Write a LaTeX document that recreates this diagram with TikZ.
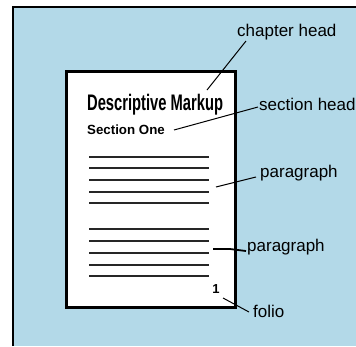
\documentclass[tikz,border=0pt]{standalone}
\usepackage{fontspec}
\setmainfont{Liberation Sans}
\definecolor{bgblue}{HTML}{B3D9E8}
\begin{document}
\begin{tikzpicture}[x=1pt,y=-1pt,
  callout/.style={inner sep=0pt, anchor=base west, font=\fontsize{17}{20}\selectfont},
  lead/.style={line width=1pt},
  textrule/.style={line width=1.3pt, black!85}]
\useasboundingbox (0,0) rectangle (356,346);
% backdrop with its left and top frame
\fill[bgblue] (13,7) rectangle (356,346);
\draw[line width=2pt] (13,346) -- (13,7) -- (356,7);
% the printed page
\draw[line width=3pt, fill=white] (66,71) rectangle (235,307);
\node[inner sep=0pt, anchor=base west, xscale=0.655,
  font=\bfseries\fontsize{22.5}{26}\selectfont] (title) at (87,110) {Descriptive Markup};
\node[inner sep=0pt, anchor=base west,
  font=\bfseries\fontsize{13.3}{15}\selectfont] (sect) at (87,134) {Section One};
\foreach \y in {157,168,180,192,203,229,241,253,265,276}
  \draw[textrule] (89,\y) -- (209,\y);
\node[inner sep=0pt, anchor=base,
  font=\bfseries\fontsize{13}{15}\selectfont] (num) at (216,293) {1};
% callout labels
\node[callout] (lchap) at (237,36) {chapter head};
\node[callout] (lsect) at (259,110) {section head};
\node[callout] (lpara1) at (260,177) {paragraph};
\node[callout] (lpara2) at (247,251) {paragraph};
\node[callout] (lfolio) at (253,317) {folio};
% leader line ends
\coordinate (cchap) at (246,41);
\coordinate (tchap) at (207,90);
\coordinate (csect) at (258,107);
\coordinate (tsect) at (174,130);
\coordinate (cpara1) at (256,177);
\coordinate (tpara1) at (216,187);
\coordinate (cpara2) at (246,251);
\coordinate (tpara2) at (213,249);
\coordinate (cfolio) at (249,312);
\coordinate (tfolio) at (223,298);
\draw[lead] (cchap) -- (tchap);
\draw[lead] (csect) -- (tsect);
\draw[lead] (cpara1) -- (tpara1);
\draw[line width=1.8pt] (tpara2) -- (230,249) -- (cpara2);
\draw[lead] (cfolio) -- (tfolio);
\end{tikzpicture}
\end{document}
